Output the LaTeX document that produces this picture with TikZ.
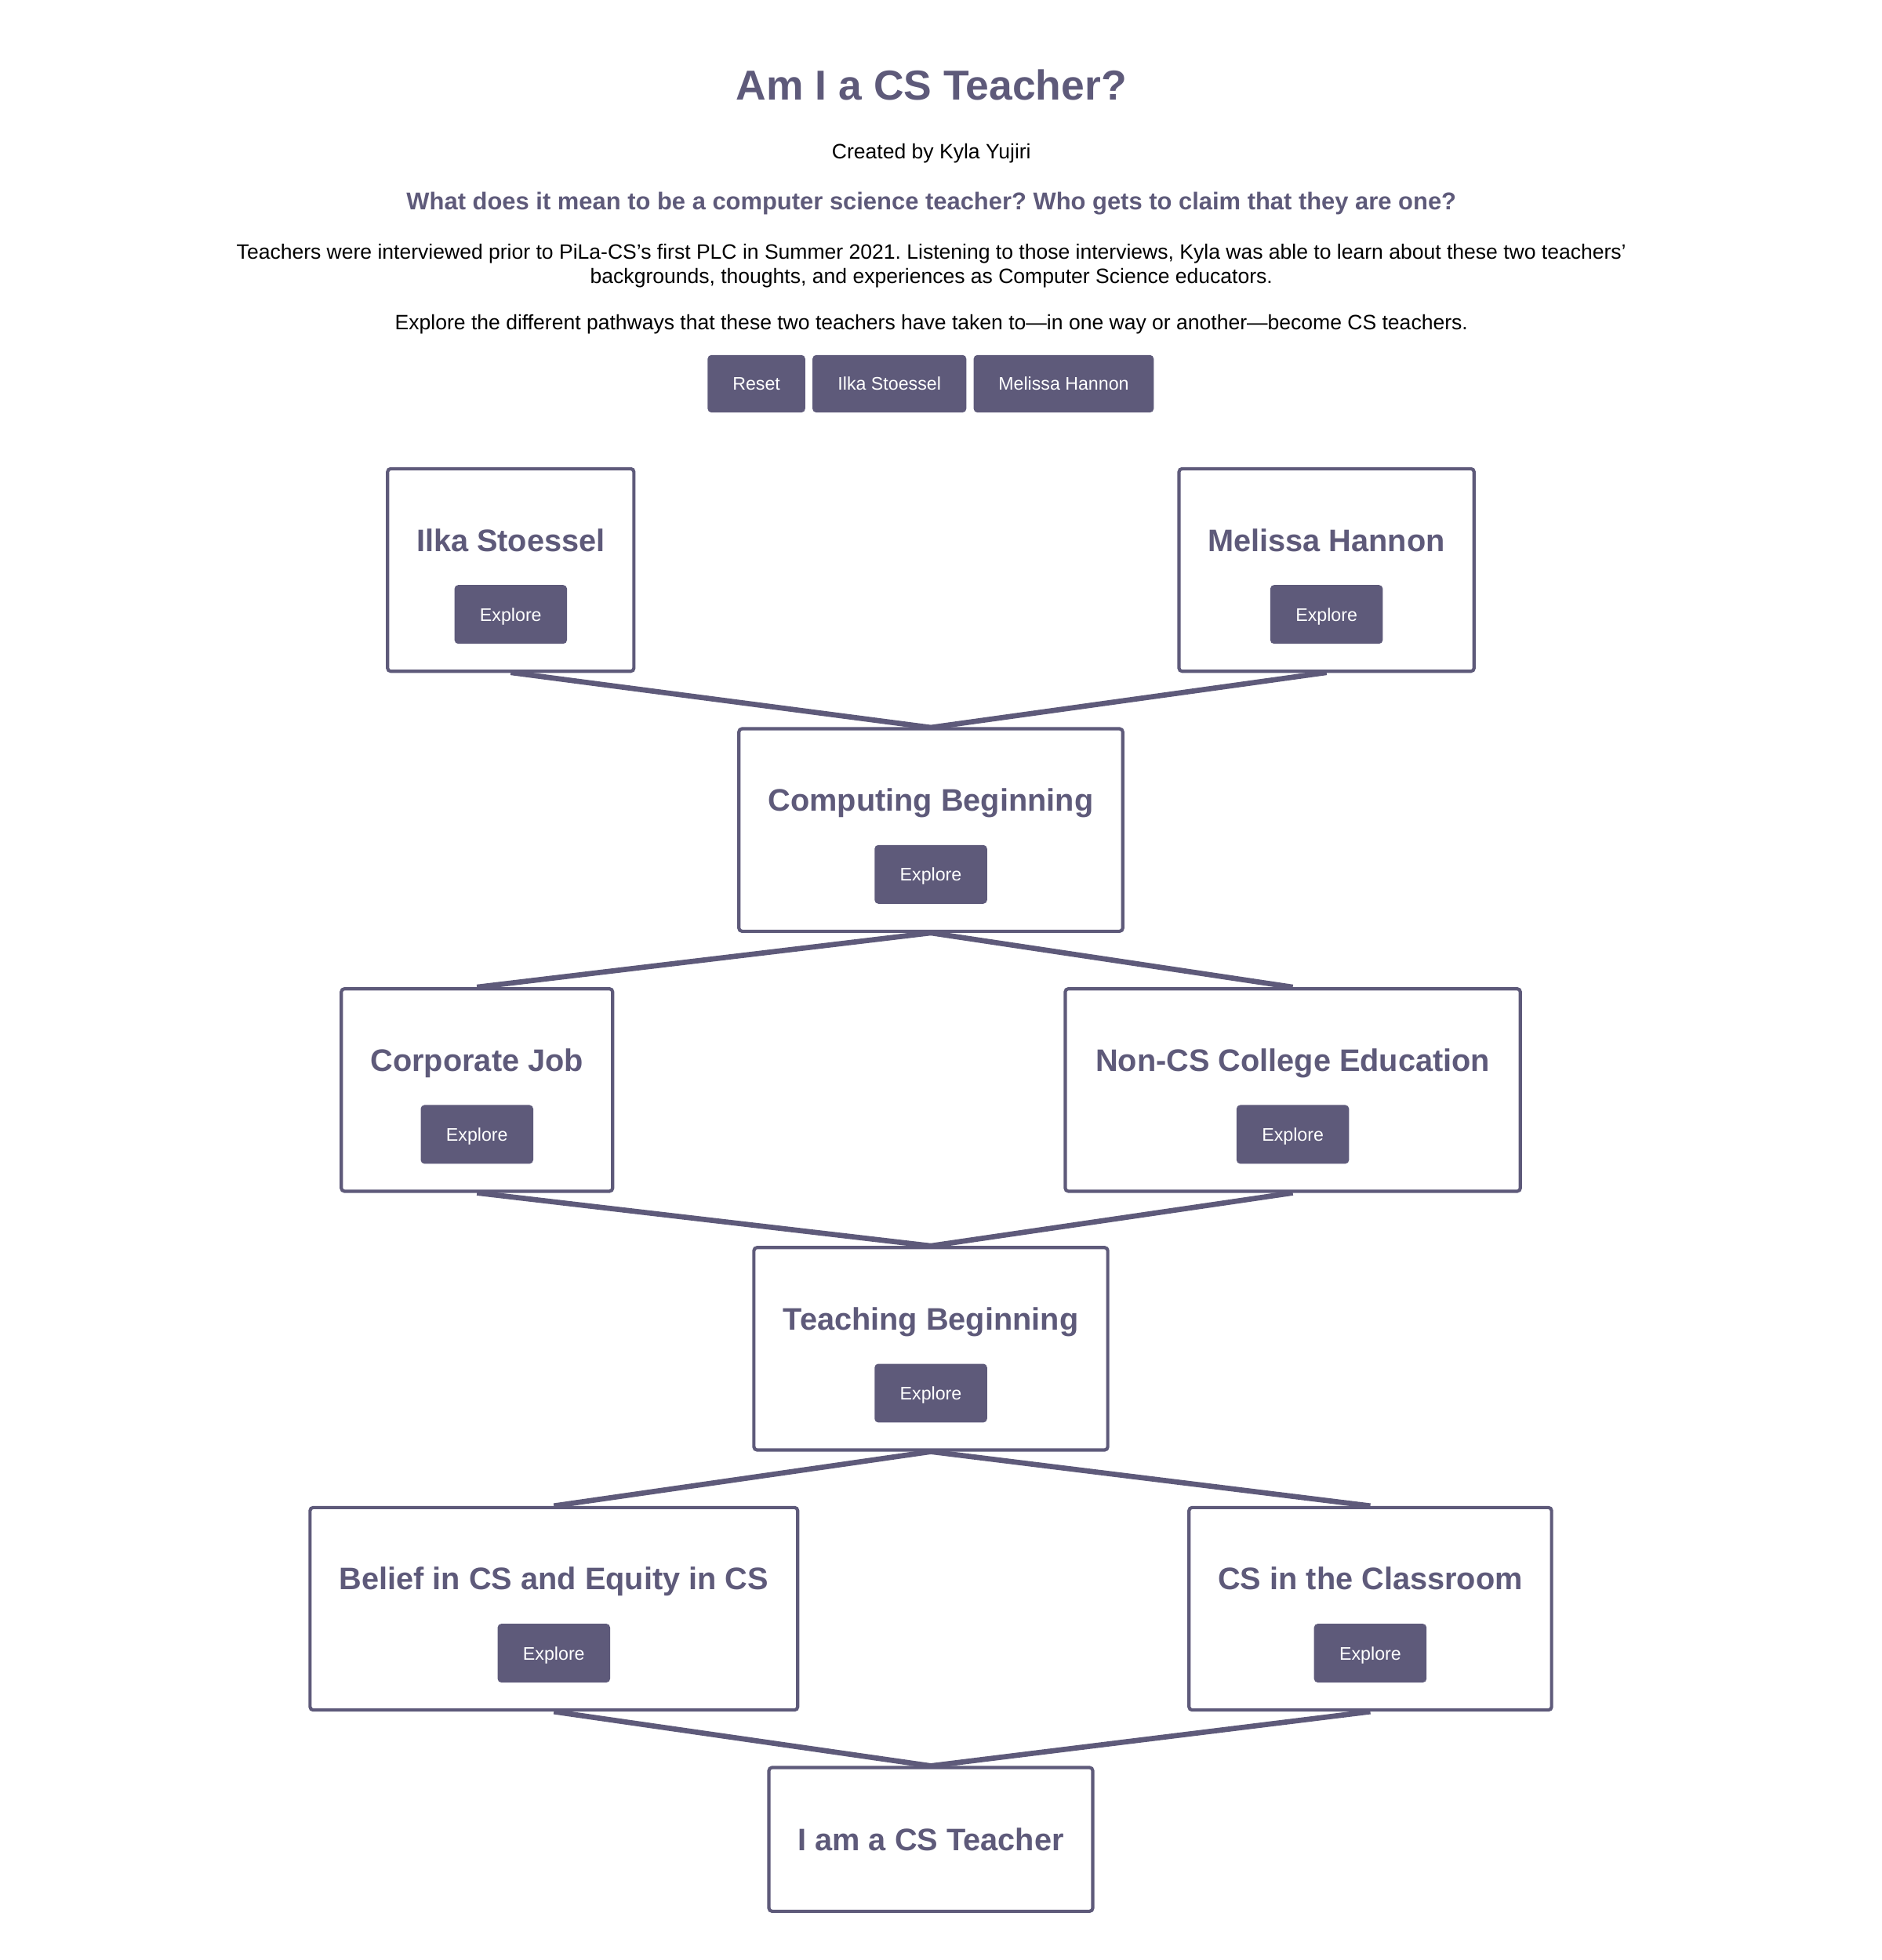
\documentclass[tikz,border=0pt]{standalone}
\usepackage{fontspec}
\setmainfont{Liberation Sans}
\usetikzlibrary{positioning, calc}
\newlength{\dpx}
\setlength{\dpx}{0.015947cm}
\definecolor{pilapurple}{RGB}{94,90,122}
\frenchspacing
\tikzset{
        path-box/.style={
            draw=pilapurple, fill=white, line width=2.6\dpx, rounded corners=2.5\dpx,
            minimum height=162\dpx, inner sep=0pt
        },
        box-title/.style={
            text=pilapurple, font=\fontsize{11.3}{13}\selectfont\bfseries,
            inner sep=0pt, text height=8.1pt, text depth=0pt
        },
        explore-btn/.style={
            fill=pilapurple, text=white, rounded corners=3\dpx,
            minimum width=90\dpx, minimum height=47\dpx, inner sep=0pt,
            font=\fontsize{6.6}{8}\selectfont, text height=4.8pt, text depth=0pt
        },
        top-btn/.style={
            fill=pilapurple, text=white, rounded corners=3\dpx,
            minimum height=46\dpx, inner sep=0pt,
            font=\fontsize{6.6}{8}\selectfont, text height=4.8pt, text depth=0pt
        },
        path-link/.style={draw=pilapurple, line width=4.2\dpx},
}
\begin{document}
\begin{tikzpicture}[x=1\dpx, y=-1\dpx]
        \useasboundingbox (0,0) rectangle (1505,1568);

        % HEADER TEXT
        \node[text=pilapurple, font=\fontsize{15.2}{18}\selectfont\bfseries, text height=10.9pt, text depth=0pt] (page-title) at (745,68) {Am I a CS Teacher?};
        \node[font=\fontsize{7.55}{9}\selectfont, text height=5.4pt, text depth=0pt] (author) at (745,121) {Created by Kyla Yujiri};
        \node[text=pilapurple, font=\fontsize{8.8}{10}\selectfont\bfseries, text height=6.3pt, text depth=0pt] (question) at (745,161) {What does it mean to be a computer science teacher? Who gets to claim that they are one?};
        \node[font=\fontsize{7.55}{8.65}\selectfont, align=center, anchor=base] (intro) at (745,226.5) {Teachers were interviewed prior to PiLa-CS's first PLC in Summer 2021. Listening to those interviews, Kyla was able to learn about these two teachers'\\backgrounds, thoughts, and experiences as Computer Science educators.};
        \node[font=\fontsize{7.55}{9}\selectfont, text height=5.4pt, text depth=0pt] (explore-note) at (745,258) {Explore the different pathways that these two teachers have taken to---in one way or another---become CS teachers.};

        % TOP BUTTONS
        \node[top-btn, minimum width=78\dpx]                          (reset-btn)   at (605,307) {Reset};
        \node[top-btn, minimum width=123\dpx, right=5\dpx of reset-btn] (ilka-btn)    {Ilka Stoessel};
        \node[top-btn, minimum width=144\dpx, right=5\dpx of ilka-btn]  (melissa-btn) {Melissa Hannon};

        % CONNECT BOXES (drawn first, boxes sit on top)
        \draw [path-link] (408.5,538) coordinate (ilka-end) -- (744.5,582) coordinate (comp-top);
        \draw [path-link] (1061,538) coordinate (melissa-end) -- (comp-top);

        % DRAW BOXES
        \node[path-box, minimum width=197\dpx] (ilka)      at (408.5,456)  {};
        \node[path-box, minimum width=236\dpx] (melissa)   at (1061,456)   {};
        \node[path-box, minimum width=307\dpx] (comp)      at (744.5,664)  {};
        \node[path-box, minimum width=217\dpx] (corp)      at (381.5,872)  {};
        \node[path-box, minimum width=364\dpx] (noncs)     at (1034,872)   {};
        \node[path-box, minimum width=283\dpx] (teach)     at (744.5,1079) {};
        \node[path-box, minimum width=390\dpx] (belief)    at (443,1287)   {};
        \node[path-box, minimum width=290\dpx] (classroom) at (1096,1287)  {};
        \node[path-box, minimum width=259\dpx, minimum height=115\dpx] (iam) at (744.5,1471.5) {};

        % BOX TITLES
        \node[box-title] (ilka-t)      at ($(ilka)+(0,-24)$)      {Ilka Stoessel};
        \node[box-title] (melissa-t)   at ($(melissa)+(0,-24)$)   {Melissa Hannon};
        \node[box-title] (comp-t)      at ($(comp)+(0,-24)$)      {Computing Beginning};
        \node[box-title] (corp-t)      at ($(corp)+(0,-24)$)      {Corporate Job};
        \node[box-title] (noncs-t)     at ($(noncs)+(0,-24)$)     {Non-CS College Education};
        \node[box-title] (teach-t)     at ($(teach)+(0,-24)$)     {Teaching Beginning};
        \node[box-title] (belief-t)    at ($(belief)+(0,-24)$)    {Belief in CS and Equity in CS};
        \node[box-title] (classroom-t) at ($(classroom)+(0,-24)$) {CS in the Classroom};
        \node[box-title] (iam-t)       at (iam)                   {I am a CS Teacher};

        % EXPLORE BUTTONS
        \node[explore-btn] (ilka-e)      at ($(ilka)+(0,35.5)$)      {Explore};
        \node[explore-btn] (melissa-e)   at ($(melissa)+(0,35.5)$)   {Explore};
        \node[explore-btn] (comp-e)      at ($(comp)+(0,35.5)$)      {Explore};
        \node[explore-btn] (corp-e)      at ($(corp)+(0,35.5)$)      {Explore};
        \node[explore-btn] (noncs-e)     at ($(noncs)+(0,35.5)$)     {Explore};
        \node[explore-btn] (teach-e)     at ($(teach)+(0,35.5)$)     {Explore};
        \node[explore-btn] (belief-e)    at ($(belief)+(0,35.5)$)    {Explore};
        \node[explore-btn] (classroom-e) at ($(classroom)+(0,35.5)$) {Explore};

        % CONNECT LOWER BOXES
        \draw [path-link] (comp.south)      -- (corp.north);
        \draw [path-link] (comp.south)      -- (noncs.north);
        \draw [path-link] (corp.south)      -- (teach.north);
        \draw [path-link] (noncs.south)     -- (teach.north);
        \draw [path-link] (teach.south)     -- (belief.north);
        \draw [path-link] (teach.south)     -- (classroom.north);
        \draw [path-link] (belief.south)    -- (iam.north);
        \draw [path-link] (classroom.south) -- (iam.north);

\end{tikzpicture}
\end{document}
